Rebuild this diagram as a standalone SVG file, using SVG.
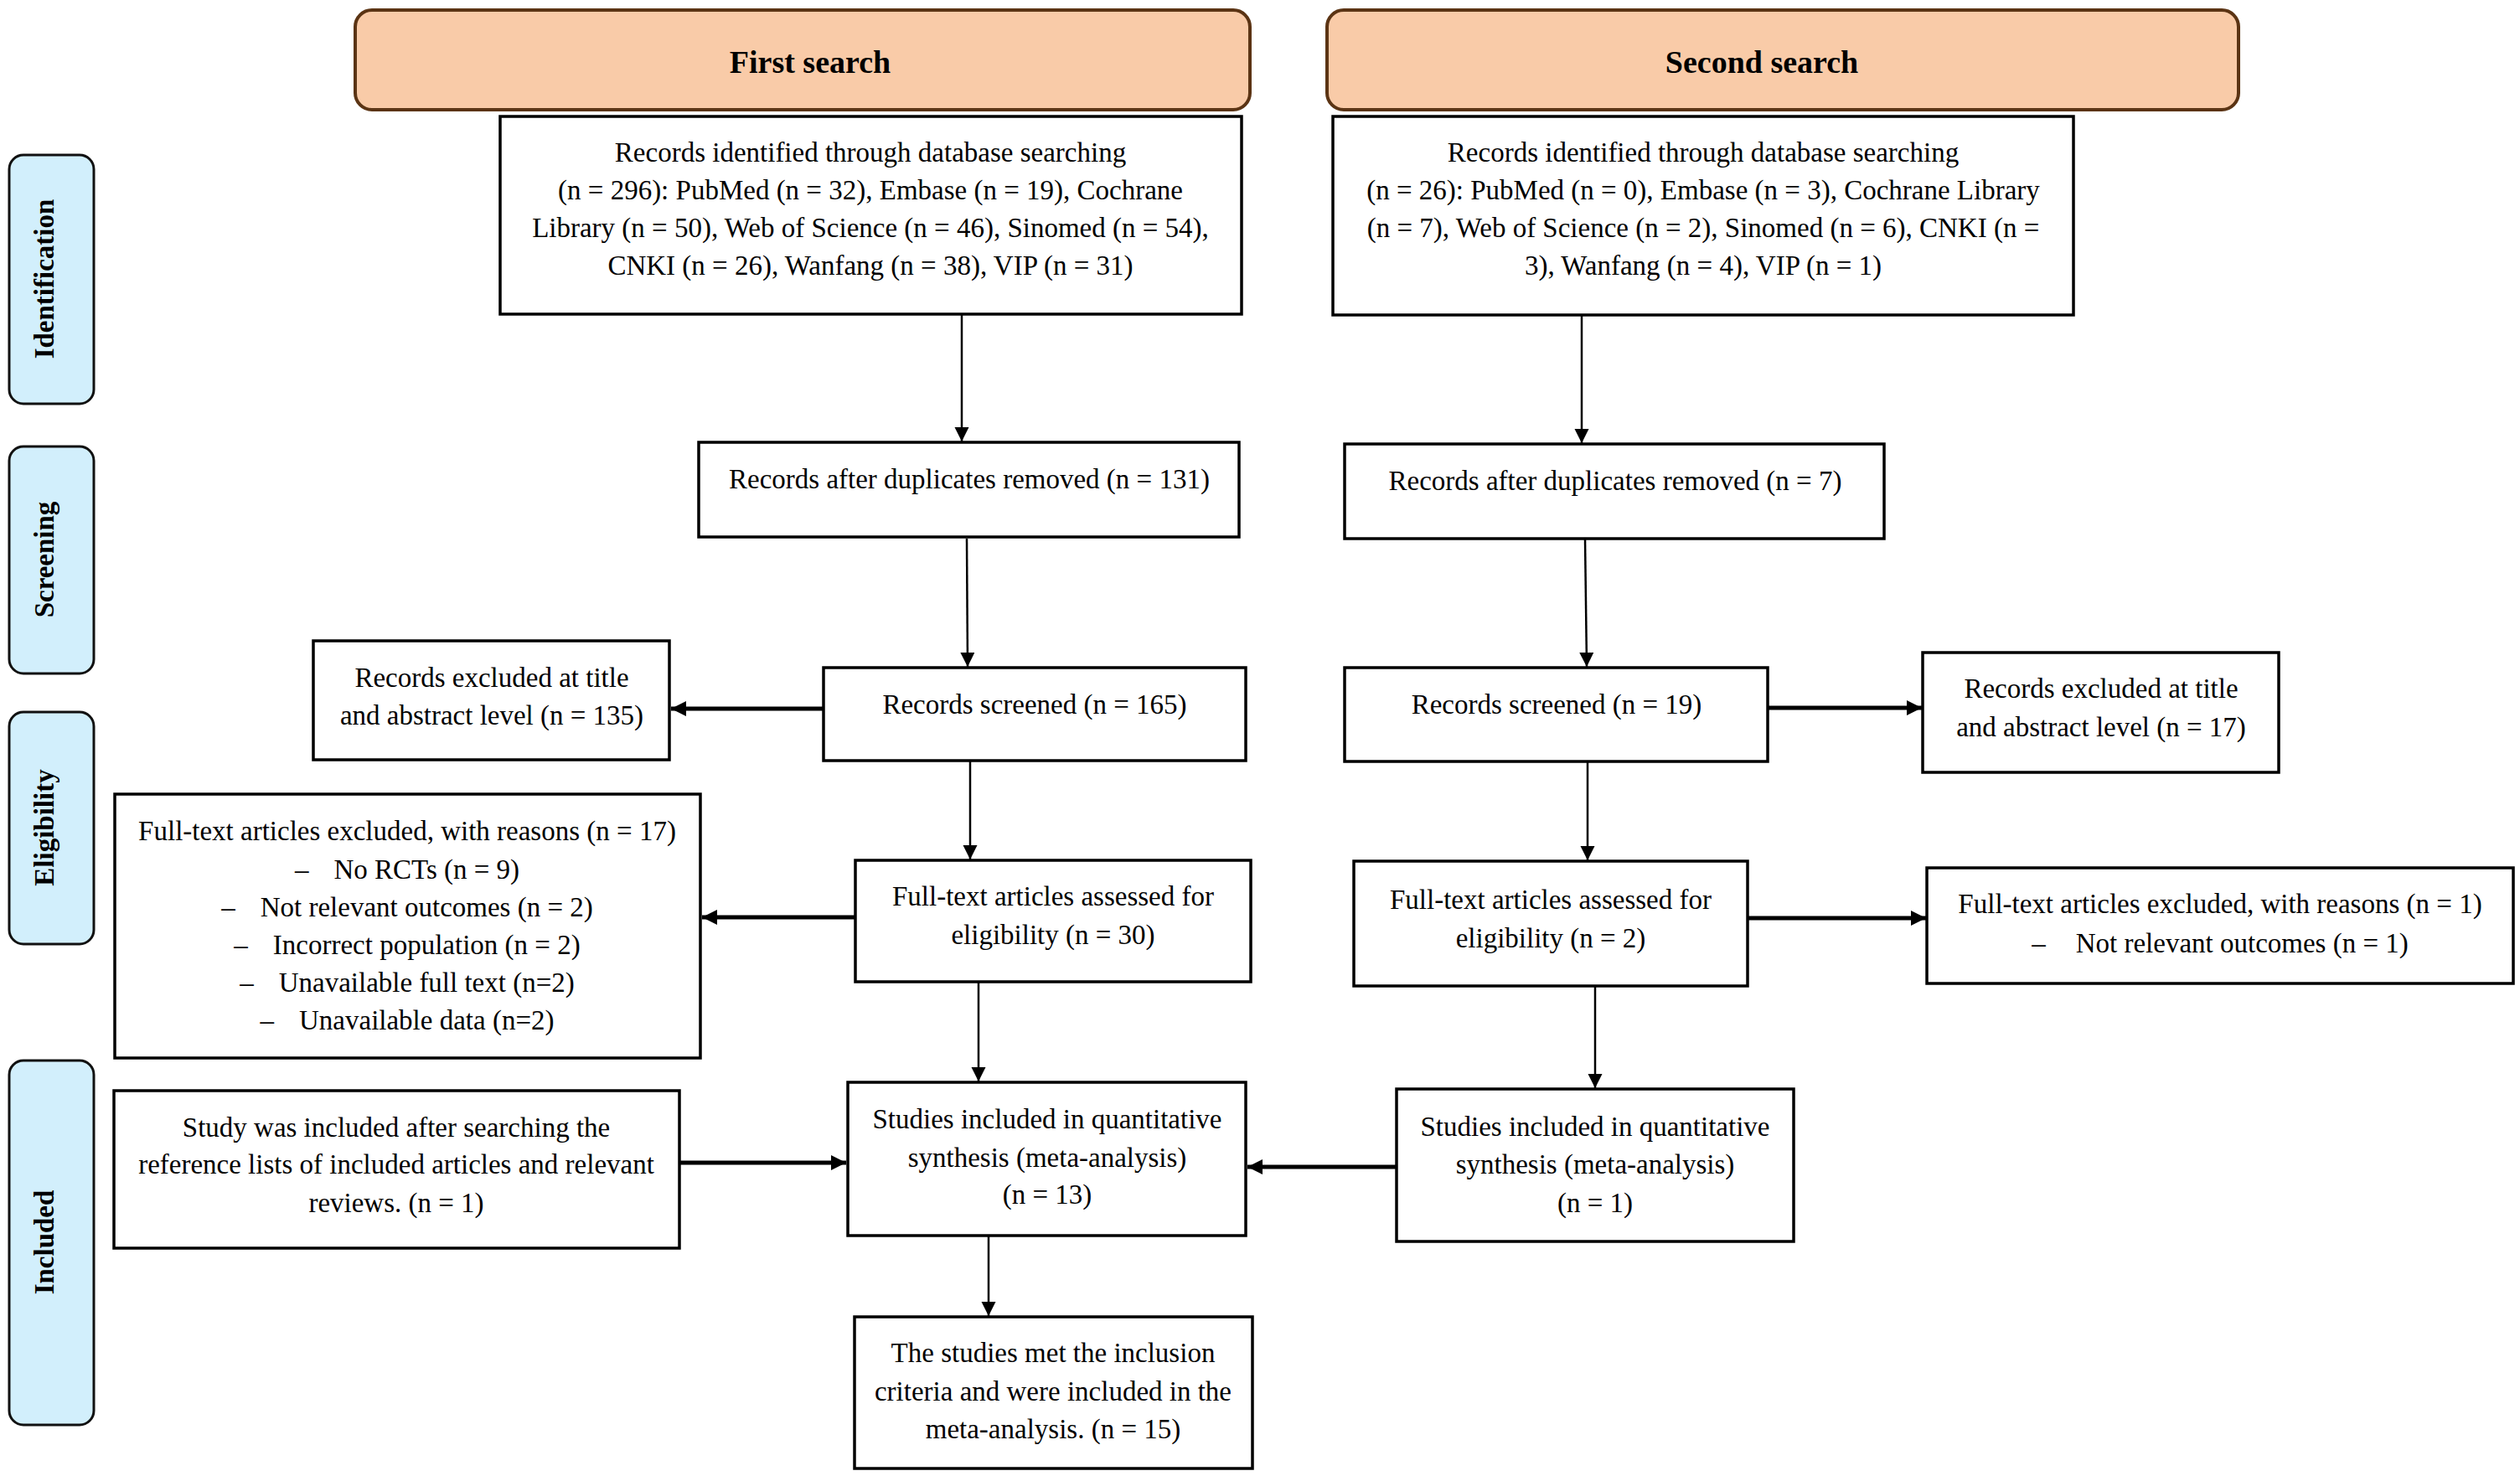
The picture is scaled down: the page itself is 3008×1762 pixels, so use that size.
<svg xmlns="http://www.w3.org/2000/svg" width="3008" height="1762" viewBox="0 0 3008 1762">
<style>
.box{fill:#ffffff;stroke:#000000;stroke-width:3.5}
.hdr{fill:#f9cba8;stroke:#5b3414;stroke-width:4}
.lab{fill:#d2effc;stroke:#111111;stroke-width:3}
.t{font-family:"Liberation Serif","Times New Roman",serif;font-size:33px;fill:#000;text-anchor:middle}
.h{font-family:"Liberation Serif","Times New Roman",serif;font-size:38px;font-weight:bold;fill:#000;text-anchor:middle}
.l{font-family:"Liberation Serif","Times New Roman",serif;font-size:33px;font-weight:bold;fill:#000;text-anchor:middle}
.thin{stroke:#000;stroke-width:2.5;fill:none;marker-end:url(#ah)}
.thick{stroke:#000;stroke-width:5;fill:none;marker-end:url(#ahb)}
</style>
<defs>
<marker id="ah" markerUnits="userSpaceOnUse" markerWidth="18" markerHeight="18" refX="17" refY="8.5" orient="auto"><path d="M0,0 L17,8.5 L0,17 z" fill="#000"/></marker>
<marker id="ahb" markerUnits="userSpaceOnUse" markerWidth="20" markerHeight="20" refX="18" refY="9" orient="auto"><path d="M0,0 L18,9 L0,18 z" fill="#000"/></marker>
</defs>
<rect width="3008" height="1762" fill="#ffffff"/>

<g id="label-identification"><rect class="lab" x="11" y="185" width="101" height="297" rx="17"/><text class="l" transform="translate(64,333) rotate(-90)">Identification</text></g>
<g id="label-screening"><rect class="lab" x="11" y="533" width="101" height="271" rx="17"/><text class="l" transform="translate(64,668) rotate(-90)">Screening</text></g>
<g id="label-eligibility"><rect class="lab" x="11" y="850" width="101" height="277" rx="17"/><text class="l" transform="translate(64,988) rotate(-90)">Eligibility</text></g>
<g id="label-included"><rect class="lab" x="11" y="1266" width="101" height="435" rx="17"/><text class="l" transform="translate(64,1483) rotate(-90)">Included</text></g>

<g id="header-first"><rect class="hdr" x="424" y="12" width="1068" height="119" rx="20"/><text class="h" x="967" y="87">First search</text></g>
<g id="header-second"><rect class="hdr" x="1584" y="12" width="1088" height="119" rx="20"/><text class="h" x="2103" y="87">Second search</text></g>

<g id="identified-1"><rect class="box" x="597" y="139" width="885" height="236"/>
<text class="t" x="1039" y="193">Records identified through database searching</text>
<text class="t" x="1039" y="238">(n = 296): PubMed (n = 32), Embase (n = 19), Cochrane</text>
<text class="t" x="1039" y="283">Library (n = 50), Web of Science (n = 46), Sinomed (n = 54),</text>
<text class="t" x="1039" y="328">CNKI (n = 26), Wanfang (n = 38), VIP (n = 31)</text></g>

<g id="identified-2"><rect class="box" x="1591" y="139" width="884" height="237"/>
<text class="t" x="2033" y="193">Records identified through database searching</text>
<text class="t" x="2033" y="238">(n = 26): PubMed (n = 0), Embase (n = 3), Cochrane Library</text>
<text class="t" x="2033" y="283">(n = 7), Web of Science (n = 2), Sinomed (n = 6), CNKI (n =</text>
<text class="t" x="2033" y="328">3), Wanfang (n = 4), VIP (n = 1)</text></g>

<g id="dedup-1"><rect class="box" x="834" y="528" width="645" height="113"/><text class="t" x="1157" y="583">Records after duplicates removed (n = 131)</text></g>
<g id="dedup-2"><rect class="box" x="1605" y="530" width="644" height="113"/><text class="t" x="1928" y="585">Records after duplicates removed (n = 7)</text></g>

<g id="screened-1"><rect class="box" x="983" y="797" width="504" height="111"/><text class="t" x="1235" y="852">Records screened (n = 165)</text></g>
<g id="screened-2"><rect class="box" x="1605" y="797" width="505" height="112"/><text class="t" x="1858" y="852">Records screened (n = 19)</text></g>

<g id="excluded-title-1"><rect class="box" x="374" y="765" width="425" height="142"/>
<text class="t" x="587" y="820">Records excluded at title</text>
<text class="t" x="587" y="865">and abstract level (n = 135)</text></g>
<g id="excluded-title-2"><rect class="box" x="2295" y="779" width="425" height="143"/>
<text class="t" x="2508" y="833">Records excluded at title</text>
<text class="t" x="2508" y="879">and abstract level (n = 17)</text></g>

<g id="assessed-1"><rect class="box" x="1021" y="1027" width="472" height="145"/>
<text class="t" x="1257" y="1081">Full-text articles assessed for</text>
<text class="t" x="1257" y="1127">eligibility (n = 30)</text></g>
<g id="assessed-2"><rect class="box" x="1616" y="1028" width="470" height="149"/>
<text class="t" x="1851" y="1085">Full-text articles assessed for</text>
<text class="t" x="1851" y="1131">eligibility (n = 2)</text></g>

<g id="fulltext-excluded-1"><rect class="box" x="137" y="948" width="699" height="315"/>
<text class="t" x="486" y="1003">Full-text articles excluded, with reasons (n = 17)</text>
<text class="t" x="486" y="1049">–<tspan dx="30">No RCTs (n = 9)</tspan></text>
<text class="t" x="486" y="1094">–<tspan dx="30">Not relevant outcomes (n = 2)</tspan></text>
<text class="t" x="486" y="1139">–<tspan dx="30">Incorrect population (n = 2)</tspan></text>
<text class="t" x="486" y="1184">–<tspan dx="30">Unavailable full text (n=2)</tspan></text>
<text class="t" x="486" y="1229">–<tspan dx="30">Unavailable data (n=2)</tspan></text></g>
<g id="fulltext-excluded-2"><rect class="box" x="2300" y="1036" width="700" height="138"/>
<text class="t" x="2650" y="1090">Full-text articles excluded, with reasons (n = 1)</text>
<text class="t" x="2650" y="1137">–<tspan dx="36">Not relevant outcomes (n = 1)</tspan></text></g>

<g id="included-1"><rect class="box" x="1012" y="1292" width="475" height="183"/>
<text class="t" x="1250" y="1347">Studies included in quantitative</text>
<text class="t" x="1250" y="1393">synthesis (meta-analysis)</text>
<text class="t" x="1250" y="1437">(n = 13)</text></g>
<g id="included-2"><rect class="box" x="1667" y="1300" width="474" height="182"/>
<text class="t" x="1904" y="1356">Studies included in quantitative</text>
<text class="t" x="1904" y="1401">synthesis (meta-analysis)</text>
<text class="t" x="1904" y="1447">(n = 1)</text></g>

<g id="reference-search"><rect class="box" x="136" y="1302" width="675" height="188"/>
<text class="t" x="473" y="1357">Study was included after searching the</text>
<text class="t" x="473" y="1401">reference lists of included articles and relevant</text>
<text class="t" x="473" y="1447">reviews. (n = 1)</text></g>

<g id="final"><rect class="box" x="1020" y="1572" width="475" height="181"/>
<text class="t" x="1257" y="1626">The studies met the inclusion</text>
<text class="t" x="1257" y="1672">criteria and were included in the</text>
<text class="t" x="1257" y="1717">meta-analysis. (n = 15)</text></g>

<g id="connectors">
<line class="thin" x1="1148" y1="375" x2="1148" y2="527"/>
<line class="thin" x1="1154" y1="643" x2="1155" y2="796"/>
<line class="thick" x1="983" y1="846" x2="801" y2="846"/>
<line class="thin" x1="1158" y1="908" x2="1158" y2="1026"/>
<line class="thick" x1="1021" y1="1095" x2="838" y2="1095"/>
<line class="thin" x1="1168" y1="1172" x2="1168" y2="1291"/>
<line class="thick" x1="811" y1="1388" x2="1010" y2="1388"/>
<line class="thin" x1="1180" y1="1475" x2="1180" y2="1571"/>
<line class="thick" x1="1667" y1="1393" x2="1489" y2="1393"/>
<line class="thin" x1="1888" y1="376" x2="1888" y2="529"/>
<line class="thin" x1="1892" y1="643" x2="1894" y2="796"/>
<line class="thick" x1="2110" y1="845" x2="2294" y2="845"/>
<line class="thin" x1="1895" y1="909" x2="1895" y2="1027"/>
<line class="thick" x1="2086" y1="1096" x2="2299" y2="1096"/>
<line class="thin" x1="1904" y1="1177" x2="1904" y2="1299"/>
</g>
</svg>
